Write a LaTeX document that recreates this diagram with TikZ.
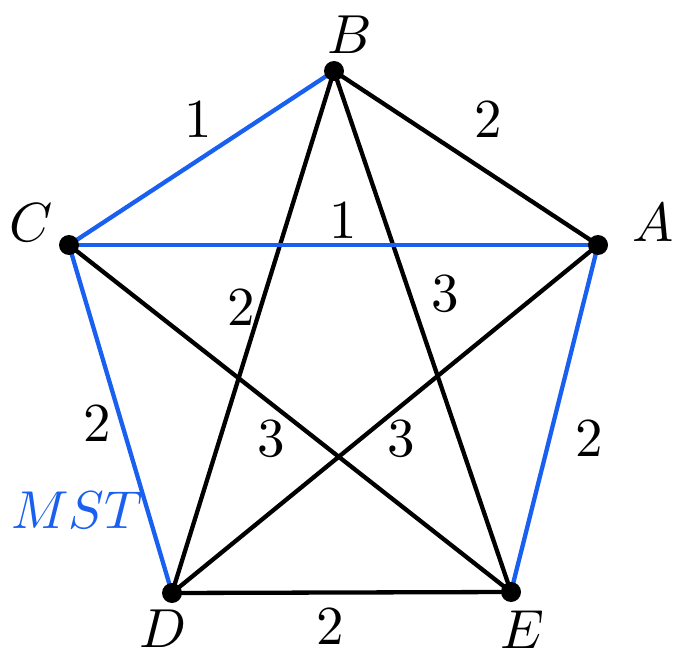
\documentclass[tikz,border=0pt]{standalone}
\begin{document}
\begin{tikzpicture}[x=1pt,y=-1pt,
  edge/.style={line width=4.3pt,black},
  mst/.style={line width=4.3pt,mstblue},
  vtx/.style={circle,fill=black,inner sep=0pt,minimum size=20pt},
  lbl/.style={inner sep=0pt,scale=5.5,transform shape}]
\definecolor{mstblue}{RGB}{25,95,240}
\useasboundingbox (0,0) rectangle (691,663);
\coordinate (B) at (334,71);
\coordinate (A) at (598,245);
\coordinate (C) at (69,245);
\coordinate (D) at (172,593);
\coordinate (E) at (511,592);
% black edges
\draw[edge] (B) -- (A);
\draw[edge] (B) -- (D);
\draw[edge] (B) -- (E);
\draw[edge] (C) -- (E);
\draw[edge] (D) -- (A);
\draw[edge] (D) -- (E);
% MST edges
\draw[mst] (C) -- (B);
\draw[mst] (C) -- (A);
\draw[mst] (C) -- (D);
\draw[mst] (A) -- (E);
% vertices
\node[vtx] (vB) at (B) {};
\node[vtx] (vA) at (A) {};
\node[vtx] (vC) at (C) {};
\node[vtx] (vD) at (D) {};
\node[vtx] (vE) at (E) {};
% vertex labels
\node[lbl] (tB) at (350,35) {$B$};
\node[lbl] (tA) at (653,223) {$A$};
\node[lbl] (tC) at (31,223) {$C$};
\node[lbl] (tD) at (163,629) {$D$};
\node[lbl] (tE) at (522,630) {$E$};
% weights
\node[lbl] (wCB) at (198,120) {$1$};
\node[lbl] (wBA) at (488,120) {$2$};
\node[lbl] (wCA) at (343,221) {$1$};
\node[lbl] (wBD) at (241,308) {$2$};
\node[lbl] (wBE) at (445,294) {$3$};
\node[lbl] (wCD) at (97,424) {$2$};
\node[lbl] (wCE) at (271,439) {$3$};
\node[lbl] (wDA) at (401,439) {$3$};
\node[lbl] (wAE) at (589,439) {$2$};
\node[lbl] (wDE) at (330,627) {$2$};
\node[lbl,text=mstblue,scale=0.97] (tM) at (77,510) {$MST$};
\end{tikzpicture}
\end{document}
